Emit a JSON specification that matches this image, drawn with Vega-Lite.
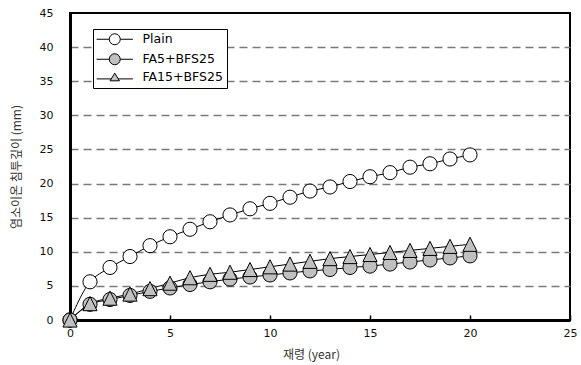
{
  "$schema": "https://vega.github.io/schema/vega-lite/v6.json",
  "width": 500,
  "height": 307,
  "autosize": {"type": "none"},
  "padding": {"left": 70, "top": 13, "right": 11, "bottom": 45},
  "background": "white",
  "config": {
    "view": {"stroke": "black", "strokeWidth": 2},
    "axis": {
      "domainColor": "black",
      "domainWidth": 3,
      "labelFont": "DejaVu Sans",
      "labelFontSize": 11,
      "labelColor": "#111111",
      "labelFlush": false,
      "labelOverlap": false,
      "titleFont": "Noto Sans CJK KR",
      "titleFontSize": 12,
      "titleFontWeight": "normal",
      "titleColor": "#333333"
    }
  },
  "data": {
    "values": [
      {"year": 0, "series": "Plain", "depth": 0},
      {"year": 1, "series": "Plain", "depth": 5.6},
      {"year": 2, "series": "Plain", "depth": 7.7},
      {"year": 3, "series": "Plain", "depth": 9.3},
      {"year": 4, "series": "Plain", "depth": 10.9},
      {"year": 5, "series": "Plain", "depth": 12.2},
      {"year": 6, "series": "Plain", "depth": 13.3},
      {"year": 7, "series": "Plain", "depth": 14.4},
      {"year": 8, "series": "Plain", "depth": 15.4},
      {"year": 9, "series": "Plain", "depth": 16.3},
      {"year": 10, "series": "Plain", "depth": 17.1},
      {"year": 11, "series": "Plain", "depth": 18.0},
      {"year": 12, "series": "Plain", "depth": 18.9},
      {"year": 13, "series": "Plain", "depth": 19.5},
      {"year": 14, "series": "Plain", "depth": 20.3},
      {"year": 15, "series": "Plain", "depth": 21.0},
      {"year": 16, "series": "Plain", "depth": 21.6},
      {"year": 17, "series": "Plain", "depth": 22.4},
      {"year": 18, "series": "Plain", "depth": 22.9},
      {"year": 19, "series": "Plain", "depth": 23.6},
      {"year": 20, "series": "Plain", "depth": 24.2},
      {"year": 0, "series": "FA5+BFS25", "depth": 0},
      {"year": 1, "series": "FA5+BFS25", "depth": 2.3},
      {"year": 2, "series": "FA5+BFS25", "depth": 3.0},
      {"year": 3, "series": "FA5+BFS25", "depth": 3.6},
      {"year": 4, "series": "FA5+BFS25", "depth": 4.2},
      {"year": 5, "series": "FA5+BFS25", "depth": 4.7},
      {"year": 6, "series": "FA5+BFS25", "depth": 5.2},
      {"year": 7, "series": "FA5+BFS25", "depth": 5.6},
      {"year": 8, "series": "FA5+BFS25", "depth": 6.0},
      {"year": 9, "series": "FA5+BFS25", "depth": 6.3},
      {"year": 10, "series": "FA5+BFS25", "depth": 6.6},
      {"year": 11, "series": "FA5+BFS25", "depth": 6.9},
      {"year": 12, "series": "FA5+BFS25", "depth": 7.2},
      {"year": 13, "series": "FA5+BFS25", "depth": 7.4},
      {"year": 14, "series": "FA5+BFS25", "depth": 7.7},
      {"year": 15, "series": "FA5+BFS25", "depth": 7.9},
      {"year": 16, "series": "FA5+BFS25", "depth": 8.2},
      {"year": 17, "series": "FA5+BFS25", "depth": 8.5},
      {"year": 18, "series": "FA5+BFS25", "depth": 8.8},
      {"year": 19, "series": "FA5+BFS25", "depth": 9.1},
      {"year": 20, "series": "FA5+BFS25", "depth": 9.4},
      {"year": 0, "series": "FA15+BFS25", "depth": 0},
      {"year": 1, "series": "FA15+BFS25", "depth": 2.4},
      {"year": 2, "series": "FA15+BFS25", "depth": 3.2},
      {"year": 3, "series": "FA15+BFS25", "depth": 3.8},
      {"year": 4, "series": "FA15+BFS25", "depth": 4.6},
      {"year": 5, "series": "FA15+BFS25", "depth": 5.4},
      {"year": 6, "series": "FA15+BFS25", "depth": 6.2},
      {"year": 7, "series": "FA15+BFS25", "depth": 6.7},
      {"year": 8, "series": "FA15+BFS25", "depth": 7.0},
      {"year": 9, "series": "FA15+BFS25", "depth": 7.4},
      {"year": 10, "series": "FA15+BFS25", "depth": 7.8},
      {"year": 11, "series": "FA15+BFS25", "depth": 8.2},
      {"year": 12, "series": "FA15+BFS25", "depth": 8.6},
      {"year": 13, "series": "FA15+BFS25", "depth": 9.0},
      {"year": 14, "series": "FA15+BFS25", "depth": 9.3},
      {"year": 15, "series": "FA15+BFS25", "depth": 9.6},
      {"year": 16, "series": "FA15+BFS25", "depth": 9.9},
      {"year": 17, "series": "FA15+BFS25", "depth": 10.2},
      {"year": 18, "series": "FA15+BFS25", "depth": 10.5},
      {"year": 19, "series": "FA15+BFS25", "depth": 10.8},
      {"year": 20, "series": "FA15+BFS25", "depth": 11.1}
    ]
  },
  "encoding": {
    "x": {
      "field": "year",
      "type": "quantitative",
      "scale": {"domain": [0, 25], "nice": false},
      "axis": {
        "values": [0, 5, 10, 15, 20, 25],
        "title": "재령 (year)",
        "grid": false,
        "tickColor": "black",
        "tickWidth": 1.5,
        "tickSize": -5,
        "labelPadding": 12,
        "titleX": 241,
        "titleY": 34,
        "titleBaseline": "middle"
      }
    },
    "y": {
      "field": "depth",
      "type": "quantitative",
      "scale": {"domain": [0, 45], "nice": false},
      "axis": {
        "values": [0, 5, 10, 15, 20, 25, 30, 35, 40, 45],
        "title": "염소이온 침투깊이 (mm)",
        "ticks": false,
        "labelPadding": 17,
        "grid": true,
        "gridColor": "#7a7a7a",
        "gridDash": [8, 5],
        "gridWidth": 1.5,
        "gridOpacity": {"condition": {"test": "datum.value === 0 || datum.value === 45", "value": 0}, "value": 1},
        "titleX": -54,
        "titleY": 153.5,
        "titleAngle": -90,
        "titleAlign": "center",
        "titleBaseline": "middle"
      }
    }
  },
  "resolve": {"scale": {"shape": "independent", "fill": "independent"}},
  "layer": [
    {
      "mark": {"type": "line", "interpolate": "catmull-rom", "color": "black", "strokeWidth": 1, "clip": false},
      "encoding": {"detail": {"field": "series"}}
    },
    {
      "mark": {"type": "point", "filled": true, "stroke": "black", "strokeWidth": 1, "size": 200, "opacity": 1, "clip": false},
      "encoding": {
        "fill": {
          "field": "series",
          "type": "nominal",
          "scale": {"domain": ["Plain", "FA5+BFS25", "FA15+BFS25"], "range": ["white", "#c0c0c0", "#c0c0c0"]},
          "legend": null
        },
        "shape": {
          "field": "series",
          "type": "nominal",
          "scale": {"domain": ["Plain", "FA5+BFS25", "FA15+BFS25"], "range": ["circle", "circle", "M0,-1L-1,1L1,1Z"]},
          "legend": null
        }
      }
    },
    {
      "transform": [{"filter": "datum.year < 0"}],
      "mark": {"type": "point", "filled": true, "stroke": "black", "strokeWidth": 1, "opacity": 1},
      "encoding": {
        "fill": {
          "field": "series",
          "type": "nominal",
          "scale": {"domain": ["Plain", "FA5+BFS25", "FA15+BFS25"], "range": ["white", "#c0c0c0", "#c0c0c0"]},
          "legend": {
            "title": null,
            "orient": "none",
            "legendX": 23,
            "legendY": 16,
            "strokeColor": "black",
            "fillColor": "white",
            "padding": 4,
            "rowPadding": 4,
            "symbolSize": 121,
            "symbolOffset": 11.5,
            "labelOffset": 21.5,
            "labelFont": "DejaVu Sans",
            "labelFontSize": 12.5,
            "labelColor": "black",
            "symbolStrokeColor": "black",
            "symbolStrokeWidth": 1
          }
        },
        "shape": {
          "field": "series",
          "type": "nominal",
          "scale": {
            "domain": ["Plain", "FA5+BFS25", "FA15+BFS25"],
            "range": [
              "M-3.3,0L-1,0M1,0L3.3,0M-1,0A1,1,0,1,1,1,0A1,1,0,1,1,-1,0Z",
              "M-3.3,0L-1,0M1,0L3.3,0M-1,0A1,1,0,1,1,1,0A1,1,0,1,1,-1,0Z",
              "M-3.3,0.3L-0.64,0.3M0.64,0.3L3.3,0.3M0,-0.75L-0.85,0.65L0.85,0.65Z"
            ]
          }
        }
      }
    }
  ]
}
